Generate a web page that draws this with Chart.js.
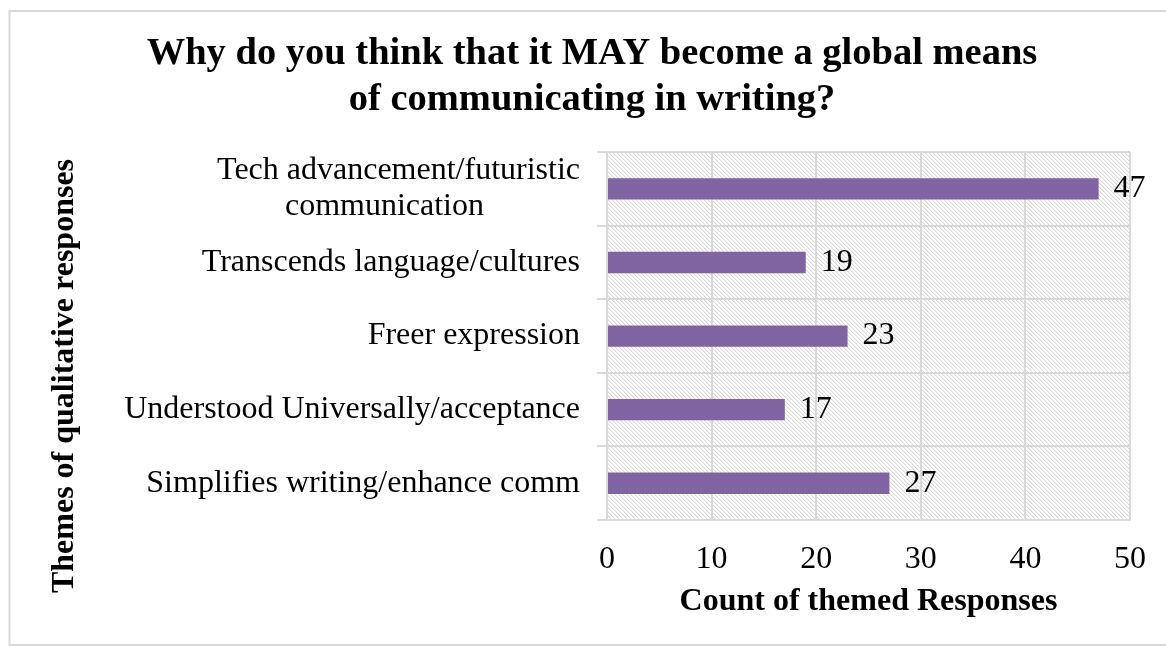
<!DOCTYPE html>
<html>
<head>
<meta charset="utf-8">
<title>Why do you think that it MAY become a global means of communicating in writing?</title>
<script src="https://cdn.jsdelivr.net/npm/chart.js@4.4.1/dist/chart.umd.min.js"></script>
<style>
  html, body { margin: 0; padding: 0; background: #fff; }
  canvas { display: block; }
</style>
</head>
<body>
<canvas id="myChart"></canvas>
<script>
// trailing spaces keep the second line centred under the first (labels are right-aligned)
var themes = [
  ["Tech advancement/futuristic", "communication            "],
  "Transcends language/cultures",
  "Freer expression",
  "Understood Universally/acceptance",
  "Simplifies writing/enhance comm"
];
var counts = [47, 19, 23, 17, 27];
var countTicks = [0, 10, 20, 30, 40, 50];

var titleLines = ["Why do you think that it MAY become a global means", "of communicating in writing?"];
var yTitle = "Themes of qualitative responses";
var xTitle = "Count of themed Responses";

var serif = "'Liberation Serif', 'Times New Roman', Times, serif";
var gridGrey = "#d9d9d9";

var ctx = document.getElementById("myChart").getContext("2d");
ctx.canvas.width = 1166;
ctx.canvas.height = 647;

// light diagonal hatching for the plot background
function hatch(c) {
  var tile = document.createElement("canvas");
  tile.width = 4;
  tile.height = 4;
  var t = tile.getContext("2d");
  t.fillStyle = "#fff";
  t.fillRect(0, 0, 4, 4);
  for (var i = 0; i < 4; i++) {
    t.fillStyle = "#dcdcdc";
    t.fillRect(i, i, 1, 1);
    t.fillStyle = "#f3f3f3";
    t.fillRect((i + 1) % 4, i, 1, 1);
  }
  return c.createPattern(tile, "repeat");
}

var sheet = {
  id: "sheet",
  beforeDraw: function (chart) {
    var c = chart.ctx, a = chart.chartArea;
    c.save();
    c.fillStyle = "#fff";
    c.fillRect(0, 0, chart.width, chart.height);
    c.strokeStyle = gridGrey;
    c.lineWidth = 2;
    c.strokeRect(9.5, 11, chart.width + 20, 634);
    c.fillStyle = hatch(c);
    c.fillRect(a.left, a.top, a.right - a.left, a.bottom - a.top);
    c.restore();
  },
  afterDraw: function (chart) {
    // vertical axis title, centred on the whole left column
    var c = chart.ctx;
    c.save();
    c.translate(73, 376);
    c.rotate(-Math.PI / 2);
    c.font = "bold 32px " + serif;
    c.fillStyle = "#000";
    c.textAlign = "center";
    c.textBaseline = "alphabetic";
    c.fillText(yTitle, 0, 0);
    c.restore();
  }
};

var barValues = {
  id: "barValues",
  afterDatasetsDraw: function (chart) {
    var c = chart.ctx;
    var values = chart.data.datasets[0].data;
    c.save();
    c.font = "32px " + serif;
    c.fillStyle = "#000";
    c.textAlign = "left";
    c.textBaseline = "middle";
    chart.getDatasetMeta(0).data.forEach(function (bar, i) {
      c.fillText(String(values[i]), bar.x + 15, bar.y);
    });
    c.restore();
  }
};

var myChart = new Chart(ctx, {
  type: "bar",
  data: {
    labels: themes,
    datasets: [
      {
        label: "Count of themed Responses",
        data: counts,
        backgroundColor: "#8064A2",
        borderWidth: 0,
        barPercentage: 0.29,
        categoryPercentage: 1
      }
    ]
  },
  plugins: [sheet, barValues],
  options: {
    indexAxis: "y",
    responsive: false,
    animation: false,
    layout: {
      padding: { left: 54, right: 36, top: 10, bottom: 0 }
    },
    plugins: {
      legend: { display: false },
      tooltip: { enabled: false },
      title: {
        display: true,
        text: titleLines,
        color: "#000",
        font: { family: serif, size: 38.5, weight: "bold", lineHeight: 1.17 },
        padding: { top: 22, bottom: 30 }
      }
    },
    scales: {
      x: {
        min: 0,
        max: 50,
        afterBuildTicks: function (scale) {
          scale.ticks = countTicks.map(function (v) { return { value: v }; });
        },
        afterFit: function (scale) {
          scale.height = 127;
        },
        grid: { color: gridGrey, lineWidth: 2, drawTicks: false },
        border: { color: gridGrey, width: 2 },
        ticks: {
          color: "#000",
          padding: 20,
          font: { family: serif, size: 32 }
        },
        title: {
          display: true,
          text: xTitle,
          color: "#000",
          font: { family: serif, size: 32, weight: "bold" },
          padding: { top: 0, bottom: 26 }
        }
      },
      y: {
        afterFit: function (scale) {
          scale.width = 553;
        },
        grid: { color: gridGrey, lineWidth: 2, tickLength: 10, offset: true },
        border: { color: gridGrey, width: 2 },
        ticks: {
          color: "#000",
          padding: 17,
          autoSkip: false,
          font: { family: serif, size: 32, lineHeight: 1.12 }
        }
      }
    }
  }
});
</script>
</body>
</html>
